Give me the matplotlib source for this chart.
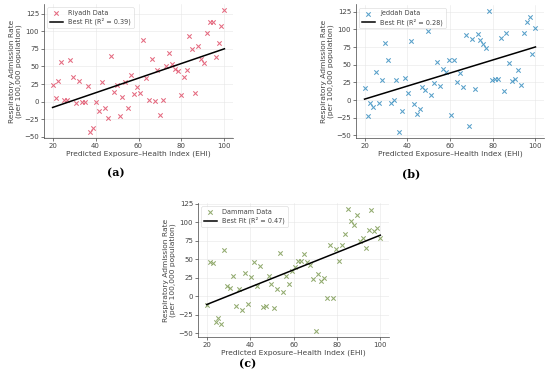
import numpy as np
import matplotlib
matplotlib.use('Agg')
import matplotlib.pyplot as plt

plt.rcParams['font.family'] = ['DejaVu Sans']

# EHI values (same for every city)
ehi = [20.0, 21.4, 22.7, 24.1, 25.4, 26.8, 28.1, 29.5, 30.8, 32.2,
       33.6, 34.9, 36.3, 37.6, 39.0, 40.3, 41.7, 43.1, 44.4, 45.8,
       47.1, 48.5, 49.8, 51.2, 52.5, 53.9, 55.3, 56.6, 58.0, 59.3,
       60.7, 62.0, 63.4, 64.7, 66.1, 67.5, 68.8, 70.2, 71.5, 72.9,
       74.2, 75.6, 76.9, 78.3, 79.7, 81.0, 82.4, 83.7, 85.1, 86.4,
       87.8, 89.2, 90.5, 91.9, 93.2, 94.6, 95.9, 97.3, 98.6, 100.0]

riyadh = [23, 5, 29, 56, 3, 3, 59, 35, -2, 29,
          0, 0, 22, -43, -37, -1, -14, 27.5, -9, -23,
          65, 14, 24, -20, 7, 28, -9.5, 38, 10.5, 20.5,
          12.4, 88, 33, 3, 61, 0.5, 45, -18.5, 2.4, 50,
          69, 53, 46.6, 43.7, 9.5, 35, 45, 93.7, 74.7, 12.8,
          79.4, 61, 55, 97.5, 113, 113.6, 63, 83, 107, 130]

jeddah = [17, -23, -4.5, -9.5, 40, -4.5, 28, 81, 56, -3.5,
          0.8, 28.5, -45, -16, 31.5, 10.7, 83.5, -5, -19.5, -13,
          19, 14, 98, 7, 24, 53.5, 20, 44, 40, 56,
          -21.5, 57, 25, 38.4, 19, 92.5, -36, 86, 15, 94,
          84.5, 79.4, 74, 126.5, 28.5, 30.4, 30.4, 88, 12.5, 95.4,
          53, 27.5, 30.4, 43, 22, 95, 110, 117, 65, 101.5]

dammam = [-11.5, 46, 44.6, -34.5, -30, -37, 63, 14.5, 11, 28,
          -13.5, 9.4, -18.5, 32, -11, 26.3, 47, 14.5, 41.3, -14.5,
          -13, 27, 16, -16, 10, 58, 5.8, 27, 16.5, 34.5,
          39, 47.8, 47.8, 57, 47, 42, 23.5, -46.8, 30, 21,
          25, -2, 69, -2, 64, 48, 69, 83.7, 118, 102.5,
          96, 110, 75, 79, 65, 90, 116.5, 88.4, 92.5, 79]

cities = ['Riyadh', 'Jeddah', 'Dammam']
series = [riyadh, jeddah, dammam]
r2_labels = ['0.39', '0.28', '0.47']
panel_tags = ['(a)', '(b)', '(c)']
colors = ['#e0506a', '#3a8fc0', '#7f9c55']

W, H = 550, 383
# axes boxes in pixels: left, top, right, bottom
boxes = [(44, 4, 233, 138), (356, 4.5, 544, 138), (198, 203, 389, 337)]
tag_pos = [(116, 173), (411, 174), (248, 364)]

fig = plt.figure(figsize=(W / 100, H / 100), dpi=100)

for i, (city, y, r2, tag, col) in enumerate(zip(cities, series, r2_labels, panel_tags, colors)):
    l, t, r, b = boxes[i]
    ax = fig.add_axes([l / W, 1 - b / H, (r - l) / W, (b - t) / H])
    x = np.array(ehi)
    yv = np.array(y)
    ax.scatter(x, yv, marker='x', s=10, linewidths=0.75, color=col, alpha=0.85,
               label=f'{city} Data', zorder=3)
    m, c = np.polyfit(x, yv, 1)
    ax.plot(x, m * x + c, color='black', lw=1.1, label=f'Best Fit (R\u00b2 = {r2})', zorder=4)

    ax.set_xticks([20, 40, 60, 80, 100])
    ax.set_yticks([-50, -25, 0, 25, 50, 75, 100, 125])
    ax.tick_params(labelsize=5, length=2, width=0.5, pad=1.5, colors='#444444')
    ax.grid(True, color='#e6e6e6', lw=0.4)
    ax.set_axisbelow(True)
    for s in ['top', 'right']:
        ax.spines[s].set_visible(False)
    for s in ['left', 'bottom']:
        ax.spines[s].set_linewidth(0.5)
        ax.spines[s].set_color('#444444')
    ax.set_xlabel('Predicted Exposure\u2013Health Index (EHI)', fontsize=5.4, color='#444444', labelpad=1.5)
    ax.set_ylabel('Respiratory Admission Rate\n(per 100,000 population)', fontsize=5.4,
                  color='#444444', labelpad=1.5)
    leg = ax.legend(loc='upper left', fontsize=4.7, frameon=True, handlelength=2,
                    borderpad=0.4, labelspacing=0.3, fancybox=True)
    leg.get_frame().set_linewidth(0.4)
    for txt in leg.get_texts():
        txt.set_color('#444444')

    tx, ty = tag_pos[i]
    fig.text(tx / W, 1 - ty / H, tag, ha='center', va='center', fontsize=8,
             family='DejaVu Serif', fontweight='bold')

fig.savefig('out.png', dpi=100, facecolor='white')
